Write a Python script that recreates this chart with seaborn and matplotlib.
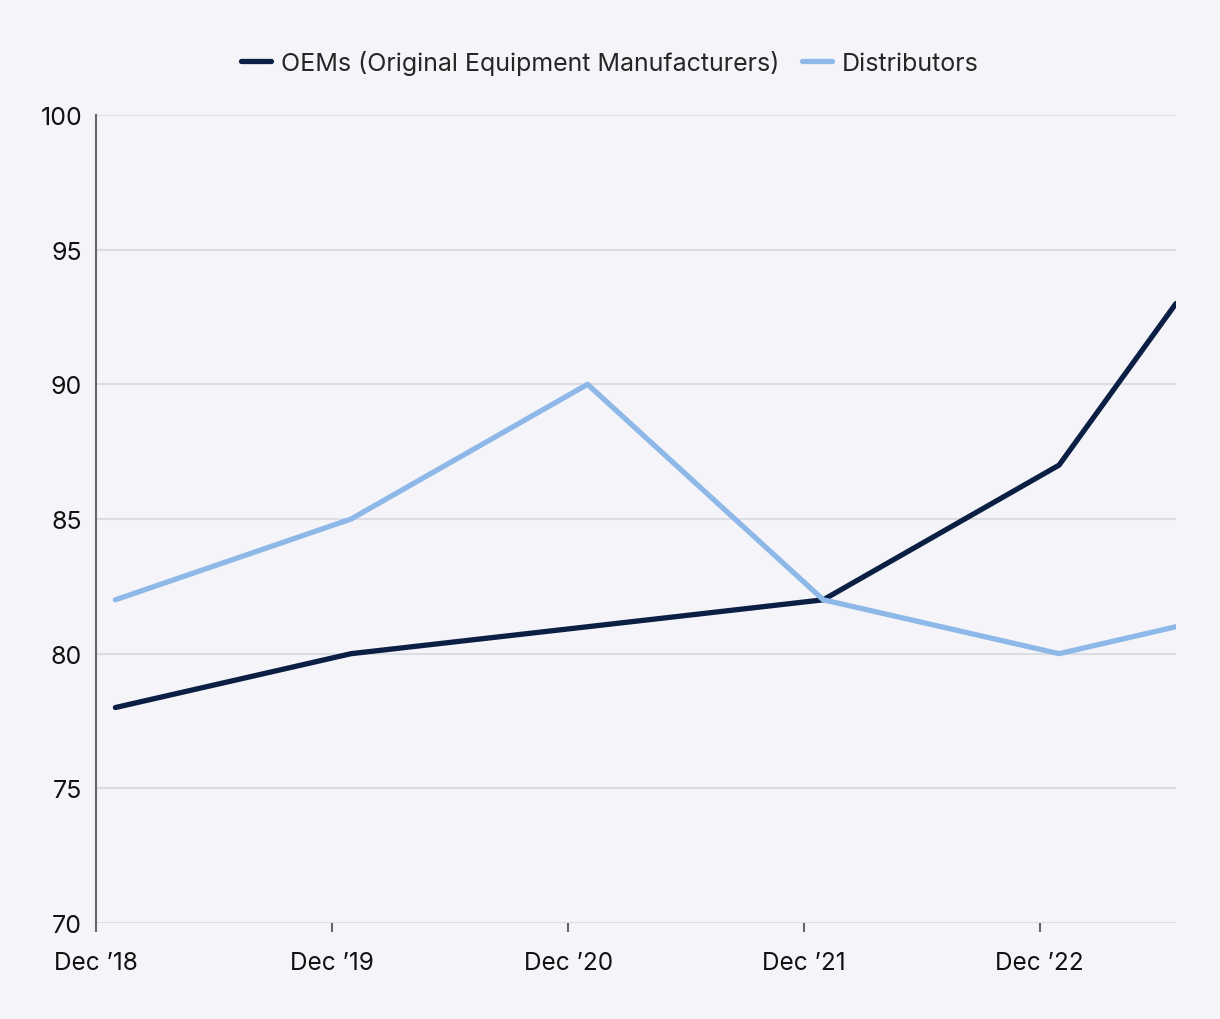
import pandas as pd
import matplotlib.pyplot as plt
import matplotlib.dates as mdates
import seaborn as sns

dates = ["2018-12-31", "2019-12-31", "2020-12-31", "2021-12-31", "2022-12-31", "2023-06-30"]
oems = [78, 80, 81, 82, 87, 93]
distributors = [82, 85, 90, 82, 80, 81]
tick_dates = ["2018-12-01", "2019-12-01", "2020-12-01", "2021-12-01", "2022-12-01"]
tick_labels = ["Dec \u201918", "Dec \u201919", "Dec \u201920", "Dec \u201921", "Dec \u201922"]
series_names = ["OEMs (Original Equipment Manufacturers)", "Distributors"]

bg = "#f5f5f9"
sns.set_style("white")
plt.rcParams["font.family"] = ["Inter", "DejaVu Sans"]

df = pd.DataFrame({
    "date": pd.to_datetime(dates * 2),
    "value": oems + distributors,
    "series": [series_names[0]] * len(oems) + [series_names[1]] * len(distributors),
})

fig = plt.figure(figsize=(12.2, 10.2), dpi=100, facecolor=bg)
ax = fig.add_axes([0.0787, 0.0941, 0.8852, 0.7922])
ax.set_facecolor(bg)

palette = {series_names[0]: "#0b1f44", series_names[1]: "#8db8e8"}
sns.lineplot(data=df, x="date", y="value", hue="series", palette=palette,
             linewidth=3.8, ax=ax, solid_capstyle="round", solid_joinstyle="round")

ax.set_xlim(pd.Timestamp("2018-12-01"), pd.Timestamp("2023-06-30"))
ax.set_ylim(70, 100)
ax.set_yticks(range(70, 101, 5))
ax.set_xticks(pd.to_datetime(tick_dates))
ax.set_xticklabels(tick_labels)
ax.set_xlabel("")
ax.set_ylabel("")

ax.grid(axis="y", color="#dcdce3", linewidth=1.5)
ax.set_axisbelow(True)
for s in ["top", "right", "bottom"]:
    ax.spines[s].set_visible(False)
ax.spines["left"].set_color("#66676c")
ax.spines["left"].set_linewidth(1.5)

ax.tick_params(axis="y", left=False, length=0, labelsize=18, pad=10, labelcolor="#111111")
ax.tick_params(axis="x", bottom=True, length=6.5, width=1.5, color="#66676c",
               labelsize=17.5, pad=13.5, labelcolor="#111111")

handles, labels = ax.get_legend_handles_labels()
ax.legend(handles, labels, loc="center", bbox_to_anchor=(0.5, 0.938),
          bbox_transform=fig.transFigure, ncol=2, frameon=False, fontsize=18,
          handlelength=1.2, handletextpad=0.4, columnspacing=0.9)

fig.savefig("out.png", dpi=100, facecolor=bg)
